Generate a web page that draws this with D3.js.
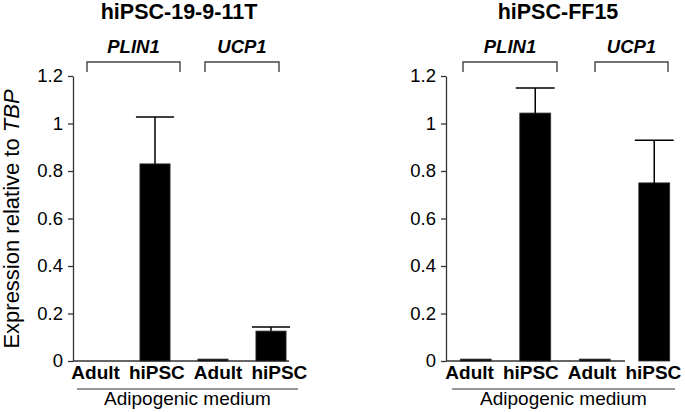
<!DOCTYPE html>
<html>
<head>
<meta charset="utf-8">
<script src="https://cdn.jsdelivr.net/npm/d3@7"></script>
<style>
  body { margin: 0; background: #fff; }
  svg { display: block; font-family: "Liberation Sans", Arial, Helvetica, sans-serif; }
</style>
</head>
<body>
<svg id="chart" width="685" height="412"></svg>
<script>
// ---- data ----
const categories = ["Adult", "hiPSC", "Adult", "hiPSC"];
const genes = ["PLIN1", "UCP1"];
const panelTitles = ["hiPSC-19-9-11T", "hiPSC-FF15"];
const valuesLeft = [0, 0.83, 0.008, 0.126];
const errorsLeft = [0, 0.197, 0, 0.017];
const valuesRight = [0.008, 1.044, 0.008, 0.75];
const errorsRight = [0, 0.106, 0, 0.18];
const yTicks = [0, 0.2, 0.4, 0.6, 0.8, 1, 1.2];
const yTickLabels = ["0", "0.2", "0.4", "0.6", "0.8", "1", "1.2"];
const mediumLabel = "Adipogenic medium";

const svg = d3.select("#chart");

const panels = [
  { title: panelTitles[0], values: valuesLeft, errors: errorsLeft,
    axisX: 73, range: [68, 300], labelRange: [65, 310], baseEnd: 289, underline: [77, 298],
    titleX: 179, brackets: [[87, 180], [205, 279]] },
  { title: panelTitles[1], values: valuesRight, errors: errorsRight,
    axisX: 446, range: [446, 684], labelRange: [439, 684], baseEnd: 625, underline: [452, 675],
    titleX: 558, brackets: [[463, 557], [595, 668]] }
];

const y = d3.scaleLinear().domain([0, 1.2]).range([361, 76]);

panels.forEach(p => {
  const g = svg.append("g");
  const x = d3.scaleBand().domain(d3.range(categories.length))
    .range(p.range).paddingInner(0.48).paddingOuter(0.24);
  const xl = d3.scalePoint().domain(d3.range(categories.length))
    .range(p.labelRange).padding(0.5);

  // title
  g.append("text").attr("x", p.titleX).attr("y", 19)
    .attr("text-anchor", "middle").attr("font-weight", "bold")
    .attr("font-size", 21.5).text(p.title);

  // gene brackets
  genes.forEach((gn, i) => {
    const [x0, x1] = p.brackets[i];
    g.append("path")
      .attr("d", `M${x0},72V62H${x1}V72`)
      .attr("fill", "none").attr("stroke", "#444").attr("stroke-width", 1.4);
    g.append("text").attr("x", (x0 + x1) / 2).attr("y", 53)
      .attr("text-anchor", "middle").attr("font-weight", "bold")
      .attr("font-style", "italic").attr("font-size", 18.5).text(gn);
  });

  // y axis
  const ax = g.append("g").attr("transform", `translate(${p.axisX},0)`)
    .call(d3.axisLeft(y).tickValues(yTicks)
      .tickFormat((d, i) => yTickLabels[i]).tickSize(5).tickSizeOuter(0).tickPadding(5));
  ax.selectAll("path, line").attr("stroke", "#333").attr("stroke-width", 1.3);
  ax.selectAll("text").attr("font-size", 18.5).attr("fill", "#000")
    .attr("font-family", "Liberation Sans, Arial, sans-serif");

  // baseline
  g.append("line").attr("x1", p.axisX).attr("x2", p.baseEnd)
    .attr("y1", y(0)).attr("y2", y(0))
    .attr("stroke", "#333").attr("stroke-width", 1.3);

  // bars
  g.selectAll("rect.bar").data(p.values).join("rect")
    .attr("class", "bar")
    .attr("x", (d, i) => x(i)).attr("width", x.bandwidth())
    .attr("y", d => y(d)).attr("height", d => y(0) - y(d))
    .attr("fill", "#000").attr("stroke", "#333").attr("stroke-width", 0.8);

  // error bars
  p.values.forEach((v, i) => {
    const e = p.errors[i];
    if (!e) return;
    const cx = x(i) + x.bandwidth() / 2;
    const half = x.bandwidth() / 2 + 4;
    g.append("line").attr("x1", cx).attr("x2", cx)
      .attr("y1", y(v)).attr("y2", y(v + e))
      .attr("stroke", "#000").attr("stroke-width", 1.5);
    g.append("line").attr("x1", cx - half).attr("x2", cx + half)
      .attr("y1", y(v + e)).attr("y2", y(v + e))
      .attr("stroke", "#000").attr("stroke-width", 1.5);
  });

  // category labels
  g.selectAll("text.cat").data(categories).join("text")
    .attr("class", "cat")
    .attr("x", (d, i) => xl(i)).attr("y", 379)
    .attr("text-anchor", "middle").attr("font-weight", "bold")
    .attr("font-size", 19).text(d => d);

  // underline and medium label
  g.append("line").attr("x1", p.underline[0]).attr("x2", p.underline[1])
    .attr("y1", 389).attr("y2", 389).attr("stroke", "#333").attr("stroke-width", 1.2);
  g.append("text").attr("x", (p.underline[0] + p.underline[1]) / 2).attr("y", 405)
    .attr("text-anchor", "middle").attr("font-size", 19).text(mediumLabel);
});

// y-axis title
const yt = svg.append("text")
  .attr("transform", "translate(19,219) rotate(-90)")
  .attr("text-anchor", "middle").attr("font-size", 22);
yt.append("tspan").text("Expression relative to ");
yt.append("tspan").attr("font-style", "italic").text("TBP");
</script>
</body>
</html>
